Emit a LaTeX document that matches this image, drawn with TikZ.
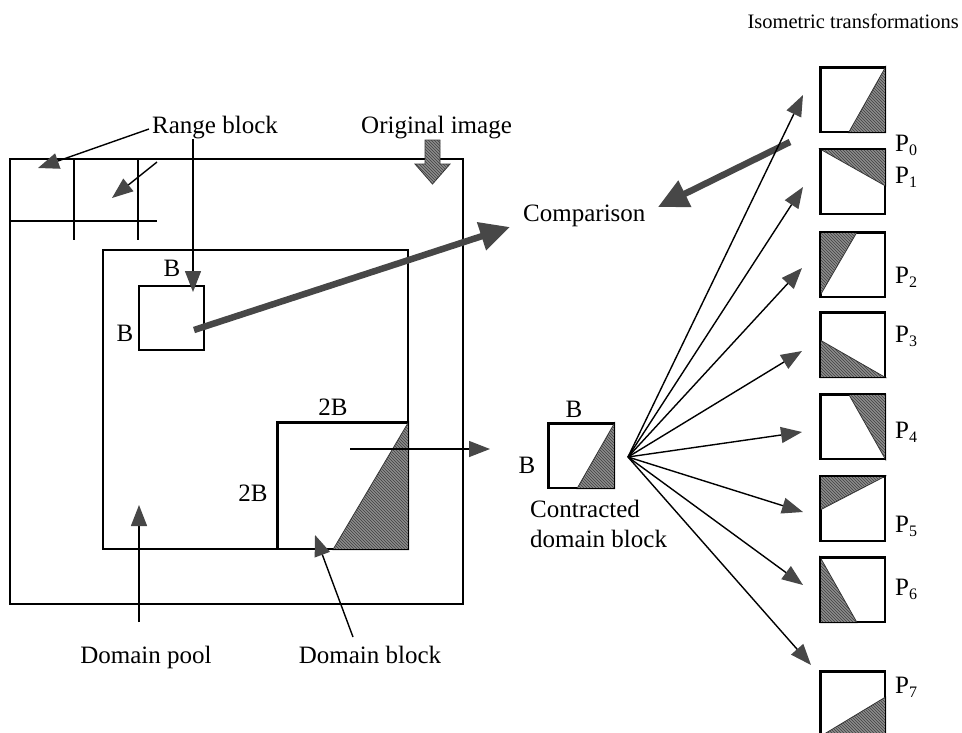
\documentclass[tikz,border=0pt]{standalone}
\usepackage{fontspec}
\setmainfont{Liberation Serif}
\usetikzlibrary{arrows.meta,calc,patterns}
\definecolor{arrowgray}{HTML}{474747}
\newcommand{\Psub}[1]{P\raisebox{-0.35ex}{\fontsize{16}{16}\selectfont #1}}
\begin{document}
\begin{tikzpicture}[x=1pt,y=-1pt,
  lbl/.style={font=\fontsize{25}{29}\selectfont, inner sep=0pt},
  smalllbl/.style={font=\fontsize{20.5}{24}\selectfont, inner sep=0pt},
  box/.style={draw, line width=1.6pt, inner sep=0pt, anchor=north west},
  thinarrow/.style={line width=1.4pt, -{Triangle[length=21pt,width=16pt,color=arrowgray]}},
  thickarrow/.style={arrowgray, line width=6.5pt, -{Triangle[length=30pt,width=28pt]}},
  shade/.style={fill=black!45, postaction={pattern=north west lines, pattern color=black!75}, draw=black!80, line width=0.8pt},
  gridline/.style={line width=1.5pt}]
\useasboundingbox (0,0) rectangle (962,732);
\clip (0,0) rectangle (962,732);

% main frames
\node[box, minimum width=453pt, minimum height=445pt] (orig) at (9,158) {};
\node[box, minimum width=305pt, minimum height=299pt] (pool) at (102,249) {};
\node[box, minimum width=65pt, minimum height=64pt] (rb) at (138,285) {};
\node[box, minimum width=130pt, minimum height=126pt] (db) at (277,422) {};
\node[box, minimum width=65pt, minimum height=64pt] (cb) at (548,423) {};

% grid lines in the original image
\draw[gridline] (74,158) -- (74,240);
\draw[gridline] (138,158) -- (138,240);
\draw[gridline] (9,221) -- (157,221);

% shaded parts
\fill[shade] ($(db.south west)+(56,0)$) -- (db.north east) -- (db.south east) -- cycle;
\fill[shade] ($(cb.south west)+(29,0)$) -- (cb.north east) -- (cb.south east) -- cycle;

% isometric squares
\foreach \n/\y in {0/67,1/149,2/232,3/312,4/394,5/476,6/557,7/671}{
  \node[box, minimum width=64pt, minimum height=64pt] (p\n) at (820,\y) {};
}
\fill[shade] ($(p0.south east)+(-37,0)$) -- (p0.north east) -- (p0.south east) -- cycle;
\fill[shade] (p1.north west) -- (p1.north east) -- ($(p1.north east)+(0,37)$) -- cycle;
\fill[shade] (p2.north west) -- ($(p2.north west)+(37,0)$) -- ($(p2.south west)+(0,-2)$) -- cycle;
\fill[shade] ($(p3.north west)+(0,28)$) -- (p3.south east) -- (p3.south west) -- cycle;
\fill[shade] ($(p4.north east)+(-37,0)$) -- (p4.north east) -- (p4.south east) -- cycle;
\fill[shade] (p5.north west) -- (p5.north east) -- ($(p5.north west)+(0,34)$) -- cycle;
\fill[shade] (p6.north west) -- (p6.south west) -- ($(p6.south west)+(37,0)$) -- cycle;
\fill[shade] ($(p7.north east)+(0,26)$) -- (p7.south east) -- (p7.south west) -- cycle;
\foreach \n in {0,...,7}{ \draw[line width=1.6pt] (p\n.north west) rectangle (p\n.south east); }
\draw[line width=1.6pt] (db.north west) rectangle (db.south east);
\draw[line width=1.6pt] (cb.north west) rectangle (cb.south east);

% labels
\node[lbl, anchor=base west] (rangelbl) at (152,133) {Range block};
\node[lbl, anchor=base west] (origlbl) at (361,133) {Original image};
\node[lbl, anchor=base west] (cmp) at (523,221) {Comparison};
\node[smalllbl, anchor=base east] (iso) at (959,28) {Isometric transformations};
\node[lbl, anchor=base] (bt) at (172,276) {B};
\node[lbl, anchor=base] (bl) at (125,341) {B};
\node[lbl, anchor=base] (tbt) at (333,415) {2B};
\node[lbl, anchor=base] (tbl) at (253,501) {2B};
\node[lbl, anchor=base] (poollbl) at (146,663) {Domain pool};
\node[lbl, anchor=base] (dblbl) at (370,663) {Domain block};
\node[lbl, anchor=base] (cbt) at (574,417) {B};
\node[lbl, anchor=base] (cbl) at (527,473) {B};
\node[lbl, anchor=base west] (ctr) at (530,517) {Contracted};
\node[lbl, anchor=base west] (ctr2) at (530,547) {domain block};
\node[lbl, anchor=base west] (l0) at (895,151) {\Psub{0}};
\node[lbl, anchor=base west] (l1) at (895,183) {\Psub{1}};
\node[lbl, anchor=base west] (l2) at (895,283) {\Psub{2}};
\node[lbl, anchor=base west] (l3) at (895,342) {\Psub{3}};
\node[lbl, anchor=base west] (l4) at (895,438) {\Psub{4}};
\node[lbl, anchor=base west] (l5) at (895,532) {\Psub{5}};
\node[lbl, anchor=base west] (l6) at (895,595) {\Psub{6}};
\node[lbl, anchor=base west] (l7) at (895,693) {\Psub{7}};

% original image hatched arrow
\filldraw[fill=black!45, draw=black!80, line width=0.8pt,
  postaction={pattern=north west lines, pattern color=black!75}]
  (425,140) -- (440,140) -- (440,164) -- (450,164) -- (432.5,184) -- (415,164) -- (425,164) -- cycle;

% connectors
\coordinate (rs) at (149,129);
\coordinate (rt) at (38,168);
\draw[thinarrow] (rs) -- (rt);
\coordinate (r2s) at (157,162);
\coordinate (r2t) at (112,198);
\draw[thinarrow] (r2s) -- (r2t);
\coordinate (vs) at (193,139);
\coordinate (vt) at (193,292);
\draw[thinarrow] (vs) -- (vt);
\coordinate (dps) at (139,622);
\coordinate (dpt) at (139,505);
\draw[thinarrow] (dps) -- (dpt);
\coordinate (dbs) at (353,637);
\coordinate (dbt) at (315,535);
\draw[thinarrow] (dbs) -- (dbt);
\coordinate (cs) at (350,449);
\coordinate (ct) at (490,449);
\draw[thinarrow] (cs) -- (ct);

\coordinate (ts) at (194,330);
\coordinate (tt) at (510,227);
\draw[thickarrow] (ts) -- (tt);
\coordinate (cms) at (790,142);
\coordinate (cmt) at (658,207);
\draw[thickarrow] (cms) -- (cmt);

\coordinate (fan) at (628,457);
\foreach \n/\x/\y in {0/803/95,1/803/187,2/802/268,3/802/351,4/802/432,5/803/512,6/803/585,7/811/665}{
  \coordinate (tip\n) at (\x,\y);
  \draw[thinarrow] (fan) -- (tip\n);
}
\end{tikzpicture}
\end{document}
